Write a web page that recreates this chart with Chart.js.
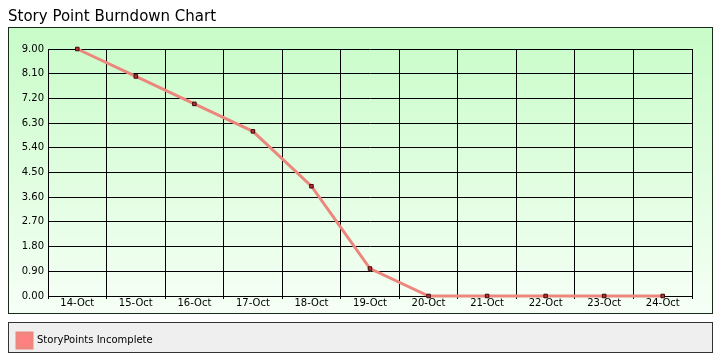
<!DOCTYPE html>
<html>
<head>
<meta charset="utf-8">
<script src="https://cdn.jsdelivr.net/npm/chart.js@4.4.1/dist/chart.umd.min.js"></script>
<style>
  html, body { margin: 0; padding: 0; background: #fff; }
  #wrap { width: 720px; height: 360px; }
</style>
</head>
<body>
<div id="wrap"><canvas id="burndown" width="720" height="360"></canvas></div>
<script>
// ---- data ----
const days = ["14-Oct", "15-Oct", "16-Oct", "17-Oct", "18-Oct", "19-Oct",
              "20-Oct", "21-Oct", "22-Oct", "23-Oct", "24-Oct"];
const incomplete = [9, 8, 7, 6, 4, 1, 0, 0, 0, 0, 0];
const seriesName = "StoryPoints Incomplete";
const yMax = 9;
const yStep = 0.9;

const FONT = "'DejaVu Sans', Verdana, sans-serif";

// green panel behind the plot + grey panel behind the legend
const panels = {
  id: "panels",
  beforeDraw(chart) {
    const ctx = chart.ctx;
    const ca = chart.chartArea;
    const L = 8.5, R = ca.right + 20.5;
    const top = 27.5, bot = 313.5;
    ctx.save();
    const g = ctx.createLinearGradient(0, top, 0, bot);
    g.addColorStop(0, "#c8fcc8");
    g.addColorStop(1, "#f6fff6");
    ctx.fillStyle = g;
    ctx.fillRect(L, top, R - L, bot - top);
    ctx.strokeStyle = "#1a2a1a";
    ctx.lineWidth = 1;
    ctx.strokeRect(L, top, R - L, bot - top);

    ctx.fillStyle = "#efefef";
    ctx.fillRect(L, 322.5, R - L, 30);
    ctx.strokeStyle = "#333";
    ctx.strokeRect(L, 322.5, R - L, 30);
    ctx.restore();
  }
};

new Chart(document.getElementById("burndown"), {
  type: "line",
  data: {
    labels: days,
    datasets: [{
      label: seriesName,
      data: incomplete,
      borderColor: "#ec877e",
      backgroundColor: "#ff8080",
      borderWidth: 3,
      tension: 0,
      clip: false,
      pointStyle: "rect",
      pointRadius: 2.5,
      pointBorderWidth: 1,
      pointBackgroundColor: "#c03030",
      pointBorderColor: "#3a0a0a"
    }]
  },
  options: {
    responsive: false,
    animation: false,
    devicePixelRatio: 1,
    layout: { padding: { left: 8, right: 28, top: 0, bottom: 2 } },
    plugins: {
      title: {
        display: true,
        text: "Story Point Burndown Chart",
        align: "start",
        color: "#000",
        font: { family: FONT, size: 15, weight: "normal" },
        padding: { top: 8, bottom: 23 }
      },
      legend: {
        display: true,
        position: "bottom",
        align: "start",
        labels: {
          color: "#000",
          font: { family: FONT, size: 10 },
          boxWidth: 15,
          boxHeight: 15,
          padding: 9
        }
      },
      tooltip: { enabled: false }
    },
    scales: {
      x: {
        offset: true,
        grid: {
          offset: true,
          color: "#000",
          lineWidth: 1,
          drawTicks: true,
          tickLength: 3
        },
        border: { color: "#000", width: 1 },
        ticks: {
          color: "#000",
          font: { family: FONT, size: 10 },
          padding: -2,
          maxRotation: 0,
          autoSkip: false
        },
        afterFit(s) { s.height = 28; }
      },
      y: {
        min: 0,
        max: yMax,
        grid: { color: "#000", lineWidth: 1, drawTicks: false },
        border: { color: "#000", width: 1 },
        ticks: {
          stepSize: yStep,
          color: "#000",
          font: { family: FONT, size: 10 },
          padding: 4,
          callback: v => Number(v).toFixed(2)
        },
        afterFit(s) { s.width = 40; }
      }
    }
  },
  plugins: [panels]
});
</script>
</body>
</html>
